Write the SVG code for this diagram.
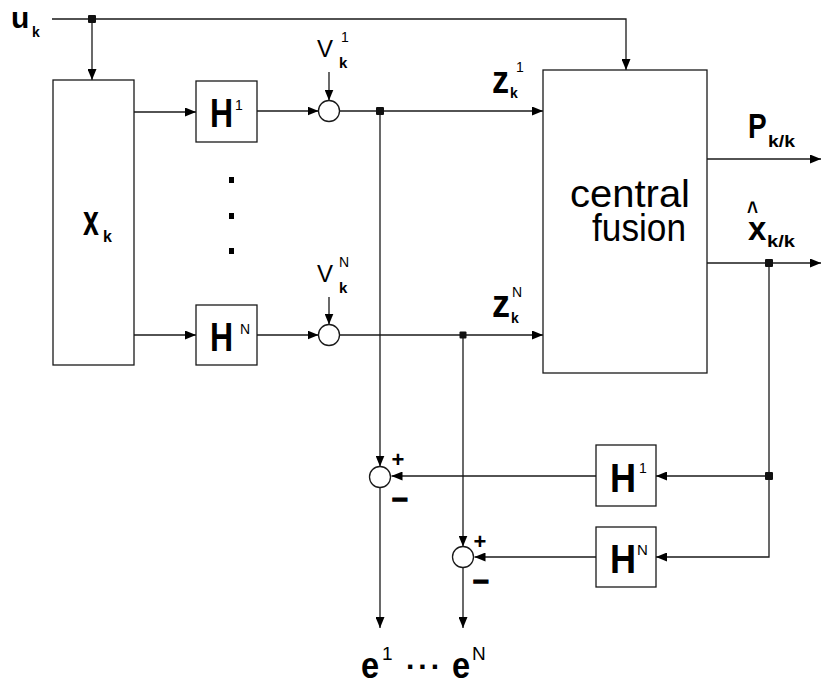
<svg xmlns="http://www.w3.org/2000/svg" width="821" height="686" viewBox="0 0 821 686">
<style>
.ln{fill:none;stroke:#1a1a1a;stroke-width:1.3}
.bx{fill:#fff;stroke:#1a1a1a;stroke-width:1.3}
.arr{fill:none;stroke:#1a1a1a;stroke-width:1.3;marker-end:url(#ah)}
.jd{fill:#111}
.b{font-family:"Liberation Sans",Arial,sans-serif;font-weight:bold;fill:#000}
.r{font-family:"Liberation Sans",Arial,sans-serif;fill:#000}
</style>
<defs>
<marker id="ah" markerUnits="userSpaceOnUse" markerWidth="11" markerHeight="9" refX="11" refY="4.5" orient="auto">
<path d="M0,0 L11,4.5 L0,9 z" fill="#000"/>
</marker>
</defs>
<rect width="821" height="686" fill="#fff"/>

<g id="connectors">
<path class="arr" d="M52,19 H626 V70"/>
<path class="arr" d="M92,19 V80"/>
<path class="arr" d="M134,112 H196"/>
<path class="arr" d="M257,111 H318.5"/>
<path class="arr" d="M329,72 V100.5"/>
<path class="arr" d="M339.5,111 H543"/>
<path class="arr" d="M380,111 V466.5"/>
<path class="arr" d="M380,487.5 V628"/>
<path class="arr" d="M134,335 H196"/>
<path class="arr" d="M257,335 H318.5"/>
<path class="arr" d="M329,297 V324.5"/>
<path class="arr" d="M339.5,335 H543"/>
<path class="arr" d="M463,335 V546.5"/>
<path class="arr" d="M463,567.5 V628"/>
<path class="arr" d="M707,159 H821"/>
<path class="arr" d="M707,263 H821"/>
<path class="arr" d="M769,263 V557 H656"/>
<path class="arr" d="M769,476 H656"/>
<path class="arr" d="M596,476 H391.5"/>
<path class="arr" d="M596,557 H474.5"/>
<rect class="jd" x="88" y="15" width="8" height="8" rx="1"/>
<rect class="jd" x="376" y="107" width="8" height="8" rx="1"/>
<rect class="jd" x="459.5" y="331.5" width="7" height="7" rx="1"/>
<rect class="jd" x="765" y="259" width="8" height="8" rx="1"/>
<rect class="jd" x="765" y="472" width="8" height="8" rx="1"/>
</g>

<g id="input-u">
<text class="b" x="11" y="28" font-size="30">u</text>
<text class="b" x="32" y="37" font-size="14">k</text>
</g>

<g id="state-x">
<rect class="bx" x="53" y="80" width="81" height="285"/>
<text class="b" font-size="42" transform="translate(83,235) scale(0.68,1)">x</text>
<text class="b" x="103" y="242" font-size="16">k</text>
</g>

<g id="H1">
<rect class="bx" x="196" y="81" width="61" height="61"/>
<text class="b" font-size="40" transform="translate(210,127) scale(0.8,1)">H</text>
<text class="r" x="235" y="110" font-size="14">1</text>
</g>

<g id="dots">
<rect x="229" y="177" width="5" height="6" fill="#000"/>
<rect x="229" y="213" width="5" height="6" fill="#000"/>
<rect x="229" y="248" width="5" height="6" fill="#000"/>
</g>

<g id="HN">
<rect class="bx" x="196" y="305" width="61" height="60"/>
<text class="b" font-size="40" transform="translate(210,351) scale(0.8,1)">H</text>
<text class="r" x="240" y="334" font-size="14">N</text>
</g>

<g id="sum-V1">
<circle class="bx" cx="329" cy="111" r="10.5"/>
<text class="r" x="317" y="57" font-size="24">V</text>
<text class="r" x="341" y="42" font-size="14">1</text>
<text class="b" x="339" y="68" font-size="15">k</text>
</g>

<g id="sum-VN">
<circle class="bx" cx="329" cy="335" r="10.5"/>
<text class="r" x="317" y="282" font-size="24">V</text>
<text class="r" x="339" y="267" font-size="14">N</text>
<text class="b" x="339" y="293" font-size="15">k</text>
</g>

<g id="label-z1">
<text class="b" font-size="38" transform="translate(492,93) scale(0.9,1)">z</text>
<text class="b" x="510" y="98" font-size="14">k</text>
<text class="r" x="516" y="72" font-size="14">1</text>
</g>

<g id="label-zN">
<text class="b" font-size="38" transform="translate(492,317) scale(0.95,1)">z</text>
<text class="b" x="511" y="323" font-size="14">k</text>
<text class="r" x="512" y="297" font-size="14">N</text>
</g>

<g id="central-fusion">
<rect class="bx" x="543" y="70" width="164" height="303"/>
<text class="r" font-size="38"><tspan x="570" y="207" textLength="120" lengthAdjust="spacingAndGlyphs">central</tspan><tspan x="592" y="241" textLength="94" lengthAdjust="spacingAndGlyphs">fusion</tspan></text>
</g>

<g id="label-P">
<text class="b" font-size="35" transform="translate(748,138) scale(0.8,1)">P</text>
<text class="b" x="768" y="147" font-size="17" textLength="27" lengthAdjust="spacingAndGlyphs">k/k</text>
</g>

<g id="label-xhat">
<text class="b"><tspan x="747" y="220" font-size="26" textLength="11" lengthAdjust="spacingAndGlyphs">^</tspan><tspan x="748" y="240" font-size="33">x</tspan></text>
<text class="b" x="767" y="247" font-size="17" textLength="28" lengthAdjust="spacingAndGlyphs">k/k</text>
</g>

<g id="H1-feedback">
<rect class="bx" x="596" y="445" width="60" height="61"/>
<text class="b" font-size="41" transform="translate(610,492) scale(0.88,1)">H</text>
<text class="r" x="639" y="473" font-size="14">1</text>
</g>

<g id="HN-feedback">
<rect class="bx" x="596" y="527" width="60" height="60"/>
<text class="b" font-size="41" transform="translate(610,573) scale(0.88,1)">H</text>
<text class="r" x="637" y="555" font-size="15">N</text>
</g>

<g id="diff-1">
<circle class="bx" cx="380" cy="477" r="10.5"/>
<text class="b" x="398" y="467" font-size="22" text-anchor="middle">+</text>
<text class="b" x="400" y="509" font-size="28" text-anchor="middle" stroke="#000" stroke-width="1.2">−</text>
</g>

<g id="diff-N">
<circle class="bx" cx="463" cy="557" r="10.5"/>
<text class="b" x="480" y="549" font-size="22" text-anchor="middle">+</text>
<text class="b" x="481" y="591" font-size="28" text-anchor="middle" stroke="#000" stroke-width="1.2">−</text>
</g>

<g id="outputs-e">
<text class="b" font-size="37" transform="translate(361,678) scale(0.88,1)">e</text>
<text class="r" x="382" y="660" font-size="19">1</text>
<text class="b" x="406" y="669" font-size="30" letter-spacing="4">...</text>
<text class="b" font-size="37" transform="translate(452,678) scale(0.88,1)">e</text>
<text class="r" x="472" y="660" font-size="19">N</text>
</g>
</svg>
